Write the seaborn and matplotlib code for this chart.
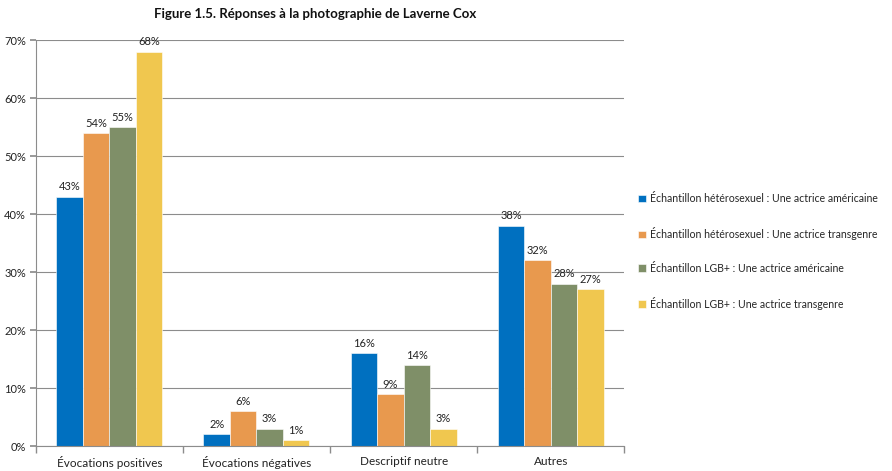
import matplotlib
matplotlib.use("Agg")
import matplotlib.pyplot as plt
import seaborn as sns
import pandas as pd
import numpy as np

categories = ["Évocations positives", "Évocations négatives", "Descriptif neutre", "Autres"]
series = ["Échantillon hétérosexuel : Une actrice américaine",
          "Échantillon hétérosexuel : Une actrice transgenre",
          "Échantillon LGB+ : Une actrice américaine",
          "Échantillon LGB+ : Une actrice transgenre"]
het_americaine = [43, 2, 16, 38]
het_transgenre = [54, 6, 9, 32]
lgb_americaine = [55, 3, 14, 28]
lgb_transgenre = [68, 1, 3, 27]
colors = ["#0070C0", "#E8994E", "#7F8F68", "#F0C74F"]
yticks = [0, 10, 20, 30, 40, 50, 60, 70]

rows = []
for s, vals in zip(series, [het_americaine, het_transgenre, lgb_americaine, lgb_transgenre]):
    for c, v in zip(categories, vals):
        rows.append({"cat": c, "serie": s, "val": v})
df = pd.DataFrame(rows)

sns.set_theme(style="white")
plt.rcParams["font.family"] = ["Lato", "DejaVu Sans"]

fig = plt.figure(figsize=(8.92, 4.71), dpi=100)
ax = fig.add_axes([0.040, 0.053, 0.660, 0.862])

sns.barplot(data=df, x="cat", y="val", hue="serie", palette=colors, saturation=1,
            width=0.72, ax=ax, edgecolor="white", linewidth=0.4, legend=True)

for cont in ax.containers:
    ax.bar_label(cont, labels=[f"{int(round(b.get_height()))}%" for b in cont],
                 padding=3, fontsize=8, color="#222222")

ax.set_ylim(0, 70)
ax.set_xlim(-0.5, 3.5)
ax.set_yticks(yticks)
ax.set_yticklabels([f"{t}%" for t in yticks], fontsize=8, color="#222222")
ax.yaxis.grid(True, color="#8c8c8c", linewidth=0.8)
ax.set_axisbelow(True)
ax.set_xlabel("")
ax.set_ylabel("")
ax.tick_params(axis="x", length=0, labelsize=8.5, colors="#222222", pad=7)
ax.tick_params(axis="y", length=4, direction="out", left=True, color="#8c8c8c", pad=3)
for s in ["top", "right"]:
    ax.spines[s].set_visible(False)
for s in ["left", "bottom"]:
    ax.spines[s].set_color("#8c8c8c")
    ax.spines[s].set_linewidth(0.8)
ax.set_xticks([-0.5, 0.5, 1.5, 2.5, 3.5], minor=True)
ax.tick_params(axis="x", which="minor", length=5, direction="out", color="#8c8c8c", bottom=True)

handles, labels = ax.get_legend_handles_labels()
ax.get_legend().remove()
fig.legend(handles, labels, loc="center left", bbox_to_anchor=(0.705, 0.466),
           frameon=False, fontsize=7.6, handlelength=0.7, handleheight=0.7,
           handletextpad=0.4, labelspacing=2.15)

fig.suptitle("Figure 1.5. Réponses à la photographie de Laverne Cox", x=0.353, y=0.983,
             fontsize=9.5, fontweight="bold", color="#111111")

fig.savefig("out.png", dpi=100)
